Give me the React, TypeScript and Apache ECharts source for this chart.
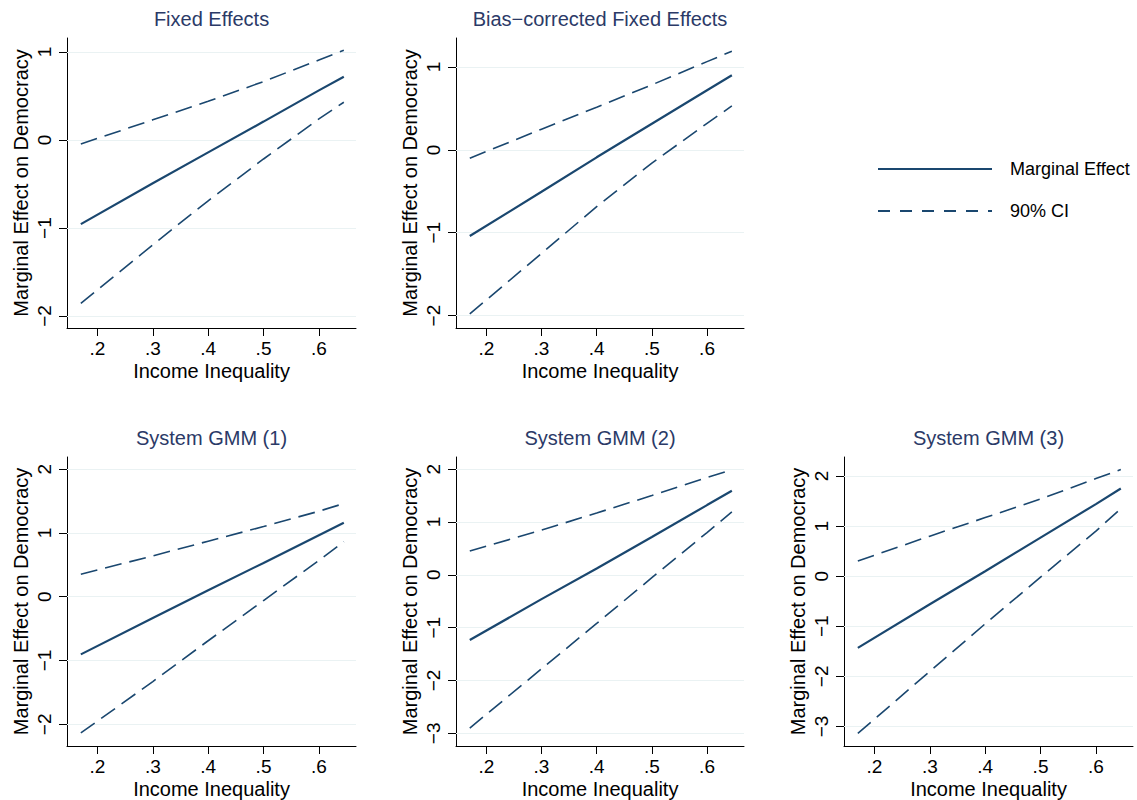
import React, { useEffect, useRef } from "react";
import * as echarts from "echarts";

// ---- data ----
const titles = [
  "Fixed Effects",
  "Bias\u2212corrected Fixed Effects",
  "System GMM (1)",
  "System GMM (2)",
  "System GMM (3)",
];
const xPoints = [0.17, 0.3, 0.4, 0.5, 0.6, 0.645];
const xTicks = [0.2, 0.3, 0.4, 0.5, 0.6];

const meFE = [-0.955, -0.49, -0.14, 0.21, 0.565, 0.72];
const upFE = [-0.045, 0.23, 0.44, 0.665, 0.91, 1.02];
const loFE = [-1.856, -1.19, -0.69, -0.215, 0.24, 0.43];

const meBC = [-1.04, -0.506, -0.09, 0.315, 0.72, 0.9];
const upBC = [-0.1, 0.25, 0.515, 0.785, 1.065, 1.19];
const loBC = [-1.98, -1.25, -0.685, -0.16, 0.32, 0.53];

const meG1 = [-0.904, -0.335, 0.1, 0.53, 0.965, 1.16];
const upG1 = [0.353, 0.64, 0.87, 1.1, 1.34, 1.46];
const loG1 = [-2.135, -1.33, -0.69, -0.06, 0.57, 0.862];

const meG2 = [-1.235, -0.46, 0.12, 0.715, 1.32, 1.59];
const upG2 = [0.45, 0.846, 1.17, 1.5, 1.84, 1.99];
const loG2 = [-2.9, -1.78, -0.92, -0.055, 0.8, 1.19];

const meG3 = [-1.43, -0.56, 0.1, 0.77, 1.44, 1.75];
const upG3 = [0.305, 0.8, 1.17, 1.54, 1.95, 2.13];
const loG3 = [-3.14, -1.9, -0.95, -0.02, 0.9, 1.35];

const yTicks1 = [-2, -1, 0, 1];
const yTicksG1 = [-2, -1, 0, 1, 2];
const yTicksG23 = [-3, -2, -1, 0, 1, 2];

const panels = [
  { title: titles[0], me: meFE, up: upFE, lo: loFE, ticks: yTicks1, ymin: -2.136, ymax: 1.16 },
  { title: titles[1], me: meBC, up: upBC, lo: loBC, ticks: yTicks1, ymin: -2.15, ymax: 1.35 },
  { title: titles[2], me: meG1, up: upG1, lo: loG1, ticks: yTicksG1, ymin: -2.34, ymax: 2.19 },
  { title: titles[3], me: meG2, up: upG2, lo: loG2, ticks: yTicksG23, ymin: -3.24, ymax: 2.23 },
  { title: titles[4], me: meG3, up: upG3, lo: loG3, ticks: yTicksG23, ymin: -3.39, ymax: 2.38 },
];

// layout (pixels)
const grids = [
  { left: 67, top: 38, width: 289, height: 290 },
  { left: 456, top: 38, width: 288, height: 290 },
  { left: 67, top: 457, width: 289, height: 290 },
  { left: 456, top: 457, width: 288, height: 290 },
  { left: 844, top: 457, width: 289, height: 290 },
];

const NAVY = "#1a476f";
const TITLE = "#2b3a67";
const GRID = "#eaf2f3";
const FONT = "Liberation Sans, Arial, Helvetica, sans-serif";

const fmtY = (v: number) => (v < 0 ? "\u2212" + Math.abs(v) : String(v));
const fmtX = (v: number) => {
  const s = (Math.round(v * 10) / 10).toString();
  return s.replace(/^0/, "");
};

export default function App() {
  const ref = useRef<HTMLDivElement>(null);
  useEffect(() => {
    document.body.style.margin = "0";
    const chart = echarts.init(ref.current!, null, { renderer: "svg" });
    const xAxis: any[] = [];
    const yAxis: any[] = [];
    const series: any[] = [];
    const graphic: any[] = [];
    panels.forEach((p, i) => {
      const g = grids[i];
      xAxis.push({
        type: "value",
        gridIndex: i,
        min: 0.145,
        max: 0.667,
        name: "Income Inequality",
        nameLocation: "middle",
        nameGap: 33,
        nameTextStyle: { fontSize: 20, color: "#000", fontFamily: FONT },
        axisLine: { onZero: false, lineStyle: { color: "#000", width: 1 } },
        axisTick: { customValues: xTicks, length: 8, lineStyle: { color: "#000" } },
        axisLabel: {
          customValues: xTicks,
          formatter: fmtX,
          fontSize: 19,
          color: "#000",
          fontFamily: FONT,
          margin: 11,
        },
        splitLine: { show: false },
      });
      yAxis.push({
        type: "value",
        gridIndex: i,
        min: p.ymin,
        max: p.ymax,
        name: "Marginal Effect on Democracy",
        nameLocation: "middle",
        nameRotate: 90,
        nameGap: 36,
        nameTextStyle: { fontSize: 20, color: "#000", fontFamily: FONT },
        axisLine: { show: true, onZero: false, lineStyle: { color: "#000", width: 1 } },
        axisTick: { show: true, customValues: p.ticks, length: 8, lineStyle: { color: "#000" } },
        axisLabel: {
          customValues: p.ticks,
          formatter: fmtY,
          rotate: 90,
          fontSize: 19,
          color: "#000",
          fontFamily: FONT,
          margin: 13,
        },
        splitLine: { show: false },
      });
      const mk = (ys: number[]) => xPoints.map((x, k) => [x, ys[k]]);
      series.push({
        type: "line",
        name: "Marginal Effect",
        xAxisIndex: i,
        yAxisIndex: i,
        data: mk(p.me),
        symbol: "none",
        lineStyle: { color: NAVY, width: 2.2, type: "solid" },
        itemStyle: { color: NAVY },
        z: 3,
        markLine: {
          silent: true,
          symbol: "none",
          label: { show: false },
          lineStyle: { color: GRID, width: 1.2, type: "solid" },
          data: p.ticks.map((t) => ({ yAxis: t })),
          z: 1,
        },
      });
      series.push({
        type: "line",
        name: "90% CI",
        xAxisIndex: i,
        yAxisIndex: i,
        data: mk(p.up),
        symbol: "none",
        lineStyle: { color: NAVY, width: 1.6, type: [17, 8] },
        itemStyle: { color: NAVY },
        z: 2,
      });
      series.push({
        type: "line",
        name: "90% CI",
        xAxisIndex: i,
        yAxisIndex: i,
        data: mk(p.lo),
        symbol: "none",
        lineStyle: { color: NAVY, width: 1.6, type: [17, 8] },
        itemStyle: { color: NAVY },
        z: 2,
      });
      graphic.push({
        type: "text",
        x: g.left + g.width / 2,
        y: g.top - 29,
        style: {
          text: p.title,
          fill: TITLE,
          fontSize: 20,
          fontFamily: FONT,
          textAlign: "center",
          textVerticalAlign: "top",
        },
      });
    });

    // legend drawn as graphics
    graphic.push(
      { type: "line", shape: { x1: 878, y1: 169, x2: 992, y2: 169 }, style: { stroke: NAVY, lineWidth: 2.2 } },
      { type: "text", x: 1010, y: 169, style: { text: "Marginal Effect", fill: "#000", fontSize: 18, fontFamily: FONT, textVerticalAlign: "middle" } },
      { type: "line", shape: { x1: 878, y1: 211, x2: 992, y2: 211 }, style: { stroke: NAVY, lineWidth: 2.2, lineDash: [12, 10] } },
      { type: "text", x: 1010, y: 211, style: { text: "90% CI", fill: "#000", fontSize: 18, fontFamily: FONT, textVerticalAlign: "middle" } }
    );

    chart.setOption({
      animation: false,
      backgroundColor: "#fff",
      textStyle: { fontFamily: FONT },
      grid: grids.map((g) => ({ ...g, containLabel: false })),
      xAxis,
      yAxis,
      series,
      graphic,
    });
    return () => chart.dispose();
  }, []);
  return <div ref={ref} style={{ width: 1137, height: 800 }} />;
}
